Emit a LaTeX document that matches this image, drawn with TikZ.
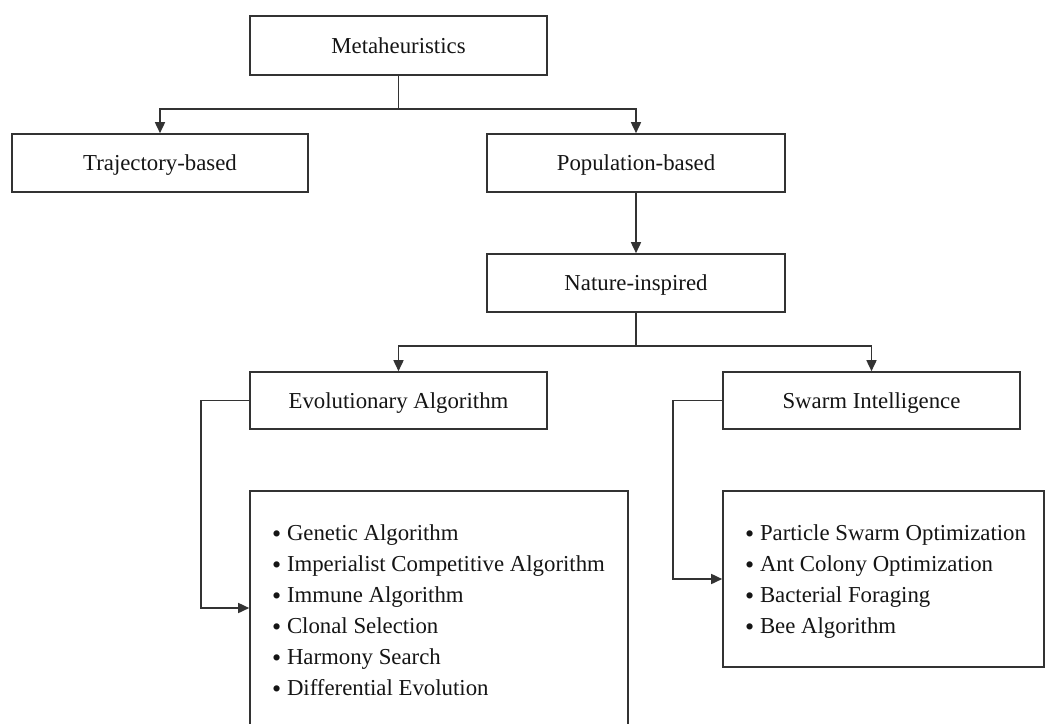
\documentclass[tikz,border=0pt]{standalone}
\usepackage{fontspec}
\setmainfont{Liberation Serif}
\usetikzlibrary{arrows.meta}
\definecolor{linegray}{HTML}{333333}
\definecolor{inkblack}{HTML}{151515}
\newcommand{\itembullet}{{\fontsize{26}{31}\selectfont\raisebox{-2pt}{\textbullet}}}
\begin{document}
\begin{tikzpicture}[x=1pt,y=-1pt,
  every node/.style={text=inkblack},
  boxnode/.style={draw=linegray, line width=1.6pt, fill=white, inner sep=0pt,
    minimum width=#1, minimum height=58pt,
    font=\fontsize{22.8}{27}\selectfont, text height=15pt, text depth=0pt},
  boxnode/.default=297pt,
  listbox/.style={draw=linegray, line width=1.6pt, inner sep=0pt},
  listtext/.style={inner sep=0pt, align=left, anchor=north west,
    font=\fontsize{22.8}{31}\selectfont},
  link/.style={draw=linegray, line width=1.6pt},
  arrowlink/.style={link, -{Triangle[length=11pt,width=10pt]}}
]
\useasboundingbox[fill=white] (0,0) rectangle (1046,723);

% tree boxes
\node[boxnode, minimum height=59pt] (meta) at (398.5,45.5) {Metaheuristics};
\node[boxnode=296pt] (traj) at (160,163) {Trajectory-based};
\node[boxnode=298pt] (pop) at (636,163) {Population-based};
\node[boxnode=298pt] (nat) at (636,283) {Nature-inspired};
\node[boxnode, minimum height=57pt] (evo) at (398.5,400.5) {Evolutionary Algorithm};
\node[boxnode, minimum height=57pt] (swarm) at (871.5,400.5) {Swarm Intelligence};

% list frames (the left one runs past the lower page edge)
\node[listbox, minimum width=378pt, minimum height=234pt] (evobox) at (439,608) {};
\node[listbox, minimum width=321pt, minimum height=176pt] (swarmbox) at (883.5,579) {};

% list contents
\node[listtext] (evolist) at (272,518.3) {\strut\itembullet{} Genetic Algorithm\\
  \itembullet{} Imperialist Competitive Algorithm\\
  \itembullet{} Immune Algorithm\\
  \itembullet{} Clonal Selection\\
  \itembullet{} Harmony Search\\
  \itembullet{} Differential Evolution};
\node[listtext] (swarmlist) at (745,518.3) {\strut\itembullet{} Particle Swarm Optimization\\
  \itembullet{} Ant Colony Optimization\\
  \itembullet{} Bacterial Foraging\\
  \itembullet{} Bee Algorithm};

% junction points
\coordinate (mj) at (398.5,109);
\coordinate (nj) at (636,346);
\coordinate (ej) at (201,400.5);
\coordinate (sj) at (673,400.5);

% connectors
\draw[link] (meta.south) -- (mj);
\draw[arrowlink] (mj) -| (traj.north);
\draw[arrowlink] (mj) -| (pop.north);
\draw[arrowlink] (pop.south) -- (nat.north);
\draw[link] (nat.south) -- (nj);
\draw[arrowlink] (nj) -| (evo.north);
\draw[arrowlink] (nj) -| (swarm.north);
\draw[arrowlink] (evo.west) -- (ej) |- (evobox.west);
\draw[arrowlink] (swarm.west) -- (sj) |- (swarmbox.west);
\end{tikzpicture}
\end{document}
